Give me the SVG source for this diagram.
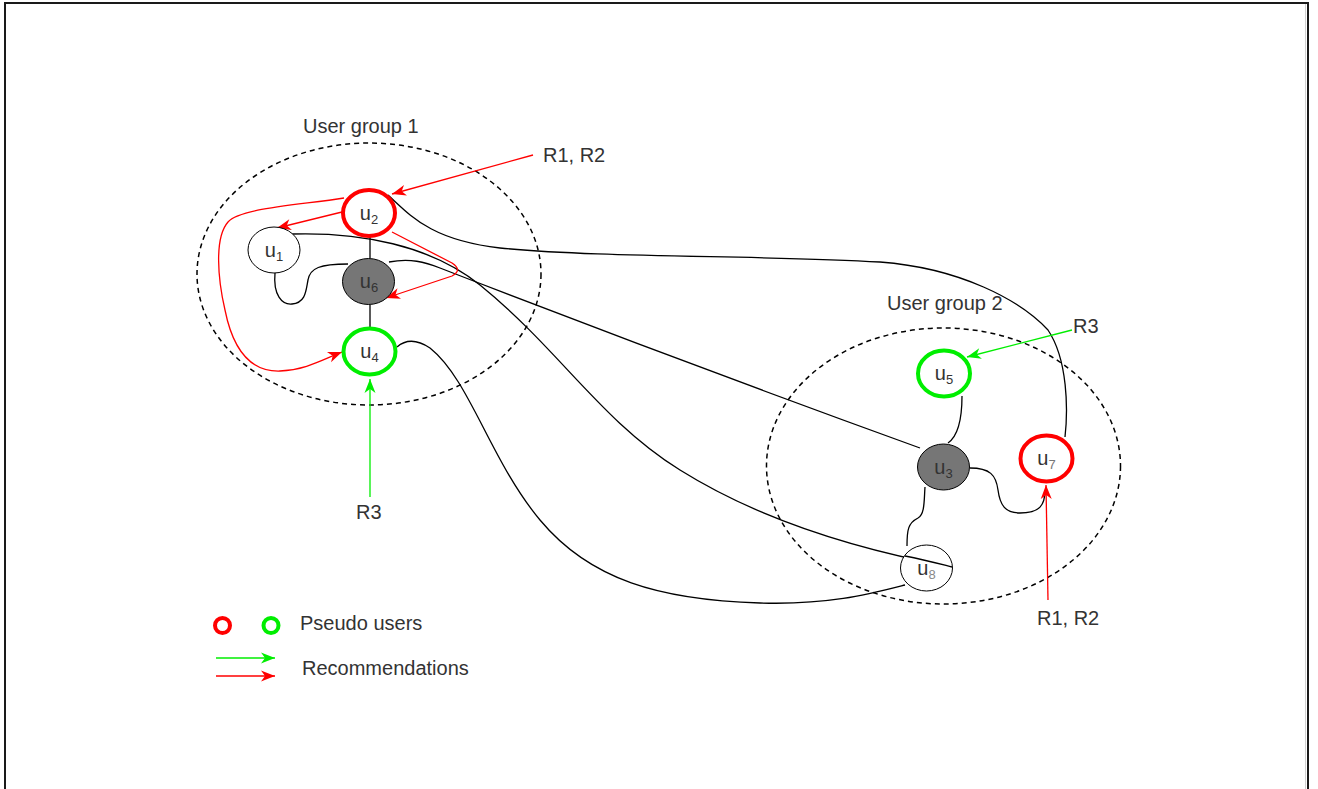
<svg xmlns="http://www.w3.org/2000/svg" width="1318" height="789" viewBox="0 0 1318 789">
  <defs>
    <style>
      .lbl { font-family: "Liberation Sans", Arial, sans-serif; font-size: 20px; fill: #333; }
      .nlbl { font-family: "Liberation Sans", Arial, sans-serif; font-size: 20px; fill: #333; text-anchor: middle; }
      .sub { font-size: 13px; }
      .group { fill: none; stroke: #000; stroke-width: 1.5; stroke-dasharray: 5 4; }
      .node { stroke-width: 1; stroke: #000; fill: #fff; }
      .dark { fill: #767676; }
      .red { fill: #fff; stroke: #ff0000; stroke-width: 4; }
      .green { fill: #fff; stroke: #00ee00; stroke-width: 4; }
      .edge { fill: none; stroke: #000; stroke-width: 1.3; }
      .rec-red { fill: none; stroke: #ff0000; stroke-width: 1.3; }
      .rec-green { fill: none; stroke: #00ee00; stroke-width: 1.3; }
    </style>
    <marker id="arrow-red" markerUnits="userSpaceOnUse" markerWidth="16" markerHeight="12" refX="14" refY="5.5" orient="auto" overflow="visible">
      <path d="M0,0 L14,5.5 L0,11 L4,5.5 Z" fill="#ff0000"/>
    </marker>
    <marker id="arrow-green" markerUnits="userSpaceOnUse" markerWidth="16" markerHeight="12" refX="14" refY="5.5" orient="auto" overflow="visible">
      <path d="M0,0 L14,5.5 L0,11 L4,5.5 Z" fill="#00ee00"/>
    </marker>
  </defs>

  <rect width="1318" height="789" fill="#fff"/>
  <!-- outer frame -->
  <path d="M5,800 L5,3 L1308,3 L1308,800" fill="none" stroke="#1a1a1a" stroke-width="2"/>
  <line x1="1305.5" y1="4" x2="1305.5" y2="800" stroke="#d0d0d0" stroke-width="1"/>

  <!-- user groups -->
  <g id="group1">
    <ellipse class="group" cx="369" cy="274" rx="172" ry="131"/>
    <text class="lbl" x="303" y="133">User group 1</text>
  </g>
  <g id="group2">
    <ellipse class="group" cx="943.5" cy="466" rx="177" ry="138"/>
    <text class="lbl" x="887" y="310">User group 2</text>
  </g>

  <!-- connectors -->
  <g id="connectors">
    <path class="edge" d="M370,236 L370,258"/>
    <path class="edge" d="M370,305 L370,328"/>
    <path class="edge" d="M275,273 C273,295 282,305 292,304 C306,303 306,290 308,280 C310,268 320,264 348,264"/>
    <path class="edge" d="M292,234 C360,232 430,245 480,285 C560,350 600,420 680,470 C760,520 860,550 952,567"/>
    <path class="edge" d="M389,262 C410,258 425,262 440,268 C600,330 760,390 920,448"/>
    <path class="edge" d="M397,347 C405,340 415,338 430,348 C470,380 490,460 540,520 C590,580 660,600 760,603 C830,605 870,594 905,585"/>
    <path class="edge" d="M388,195 C410,215 430,240 500,248 C600,258 760,255 880,262 C960,268 1020,300 1048,330 C1068,360 1068,410 1065,437"/>
    <path class="edge" d="M948,443 C958,436 962,420 962,396"/>
    <path class="edge" d="M970,468 C990,468 996,475 998,490 C1000,505 1005,513 1020,513 C1040,513 1045,505 1045,490"/>
    <path class="edge" d="M925,487 C924,500 925,514 918,518 C908,523 907,530 907,546"/>

    <!-- recommendations -->
    <path class="rec-red" d="M533,155 L392,194" marker-end="url(#arrow-red)"/>
    <path class="rec-red" d="M342,212 L277,228" marker-end="url(#arrow-red)"/>
    <path class="rec-red" d="M344,198 C300,205 240,208 228,222 C214,238 218,280 225,310 C232,345 248,372 280,371 C305,370 322,360 342,352" marker-end="url(#arrow-red)"/>
    <path class="rec-red" d="M392,232 L452,263 Q463,270 452,276 L386,298" marker-end="url(#arrow-red)"/>
    <path class="rec-red" d="M1048,600 L1046,485" marker-end="url(#arrow-red)"/>
    <path class="rec-green" d="M370,497 L370,379" marker-end="url(#arrow-green)"/>
    <path class="rec-green" d="M1072,330 L967,357" marker-end="url(#arrow-green)"/>
  </g>

  <!-- users -->
  <g id="u1">
    <ellipse class="node" cx="274" cy="250" rx="26" ry="23"/>
    <text class="nlbl" x="274" y="257">u<tspan class="sub" dy="4">1</tspan></text>
  </g>
  <g id="u2">
    <ellipse class="red" cx="369" cy="213" rx="26" ry="23"/>
    <text class="nlbl" x="369" y="220">u<tspan class="sub" dy="4">2</tspan></text>
  </g>
  <g id="u6">
    <ellipse class="node dark" cx="368.5" cy="281.5" rx="26" ry="23"/>
    <text class="nlbl" x="369" y="288">u<tspan class="sub" dy="4">6</tspan></text>
  </g>
  <g id="u4">
    <ellipse class="green" cx="369.5" cy="351.5" rx="26" ry="23"/>
    <text class="nlbl" x="369.5" y="358">u<tspan class="sub" dy="4">4</tspan></text>
  </g>
  <g id="u5">
    <ellipse class="green" cx="944" cy="373.5" rx="26" ry="23"/>
    <text class="nlbl" x="944" y="380">u<tspan class="sub" dy="4">5</tspan></text>
  </g>
  <g id="u3">
    <ellipse class="node dark" cx="943.5" cy="467" rx="26" ry="23"/>
    <text class="nlbl" x="943.5" y="474">u<tspan class="sub" dy="4">3</tspan></text>
  </g>
  <g id="u7">
    <ellipse class="red" cx="1046.5" cy="458.5" rx="26" ry="23"/>
    <text class="nlbl" x="1046.5" y="465">u<tspan class="sub" dy="4" fill="#777">7</tspan></text>
  </g>
  <g id="u8">
    <ellipse class="node" cx="926.5" cy="568" rx="26" ry="23"/>
    <text class="nlbl" x="926.5" y="575">u<tspan class="sub" dy="4" fill="#888">8</tspan></text>
    <path class="edge" d="M905,556 C925,560 940,564 952,567"/>
  </g>

  <!-- recommendation labels -->
  <text class="lbl" x="543" y="162">R1, R2</text>
  <text class="lbl" x="1073" y="333">R3</text>
  <text class="lbl" x="356" y="519">R3</text>
  <text class="lbl" x="1037" y="625">R1, R2</text>

  <!-- legend -->
  <g id="legend">
    <circle cx="222.5" cy="625.5" r="7.5" fill="none" stroke="#ff0000" stroke-width="4"/>
    <circle cx="271" cy="625.5" r="7.5" fill="none" stroke="#00ee00" stroke-width="4"/>
    <text class="lbl" x="300" y="630">Pseudo users</text>
    <path class="rec-green" d="M216,658 L275,658" marker-end="url(#arrow-green)"/>
    <path class="rec-red" d="M216,676 L275,676" marker-end="url(#arrow-red)"/>
    <text class="lbl" x="302" y="675">Recommendations</text>
  </g>
</svg>
